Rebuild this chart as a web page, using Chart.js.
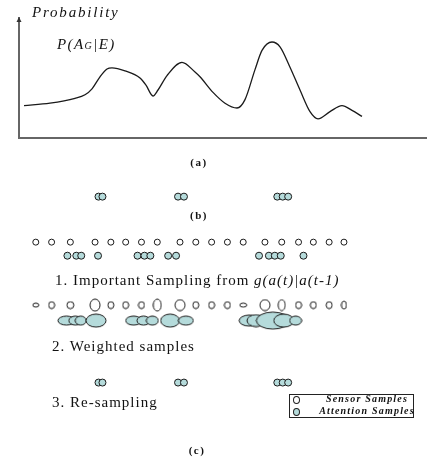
<!DOCTYPE html>
<html>
<head>
<meta charset="utf-8">
<script src="https://cdn.jsdelivr.net/npm/chart.js@4.4.1/dist/chart.umd.min.js"></script>
<style>
  html, body { margin: 0; padding: 0; background: #fff; }
  #page { position: relative; width: 427px; height: 466px; overflow: hidden;
          font-family: "Liberation Serif", "Times New Roman", serif; color: #111; }
  #page canvas { position: absolute; left: 0; }
  .t { position: absolute; white-space: nowrap; line-height: 1; transform: translateY(-50%); }
  .c { transform: translate(-50%, -50%); }
  .it { font-style: italic; }
  .cap { font-weight: bold; font-size: 11px; letter-spacing: 1.5px; }
  .step { font-size: 15px; letter-spacing: 1px; }
  #legend { position: absolute; left: 289px; top: 394px; width: 123px; height: 22px; border: 1px solid #222; }
  #legend .dot { position: absolute; left: 3px; width: 5px; height: 6px; border: 1px solid #222; border-radius: 50%; }
  #legend .lt { position: absolute; left: 77px; font-size: 10px; font-weight: bold; font-style: italic;
                letter-spacing: 1.2px; line-height: 1; transform: translate(-50%, -50%); white-space: nowrap; }
</style>
</head>
<body>
<div id="page">
  <canvas id="curve" width="427" height="150" style="top:0"></canvas>
  <canvas id="samples" width="427" height="316" style="top:150px"></canvas>

  <div class="t it" style="left:32px; top:12px; font-size:15px; letter-spacing:1.8px">Probability</div>
  <div class="t it" style="left:57px; top:44px; font-size:15px; letter-spacing:1.4px">P(A<span style="font-size:10px">G</span>|E)</div>
  <div class="t c cap" style="left:199px; top:162px">(a)</div>
  <div class="t c cap" style="left:199px; top:215px">(b)</div>
  <div class="t step" style="left:55px; top:280px">1. Important Sampling from <span class="it">g(a(t)|a(t-1)</span></div>
  <div class="t step" style="left:52px; top:346px">2. Weighted samples</div>
  <div class="t step" style="left:52px; top:402px">3. Re-sampling</div>
  <div class="t c cap" style="left:197px; top:450px">(c)</div>

  <div id="legend">
    <span class="dot" style="top:1px; background:#fff"></span>
    <span class="lt" style="top:4px">Sensor Samples</span>
    <span class="dot" style="top:13px; background:#b5dbdb"></span>
    <span class="lt" style="top:16px">Attention Samples</span>
  </div>
</div>

<script>
// (a) probability curve P(AG|E) over the state axis
const curveX = [5, 31, 56, 66, 73, 81, 88, 93, 106, 121, 127, 134, 139, 148, 163, 176, 181, 194, 206, 218,
                226, 236, 243, 253, 261, 271, 281, 291, 299, 311, 323, 333, 343];
const curveP = [0.27, 0.29, 0.33, 0.36, 0.41, 0.51, 0.575, 0.585, 0.56, 0.5, 0.44, 0.35, 0.4, 0.52, 0.63, 0.55,
                0.51, 0.38, 0.29, 0.25, 0.32, 0.57, 0.73, 0.8, 0.76, 0.59, 0.4, 0.22, 0.16, 0.22, 0.27, 0.23, 0.18];

// (b) / step 3: re-sampled attention samples
const resampledX = [80.5, 84.5, 161, 167, 261.5, 267, 272.5];

// step 1: sensor samples and samples drawn from g(a(t)|a(t-1))
const sensorX = [17, 33, 52, 77, 93, 108, 124, 140, 163, 179, 195, 211, 227, 249, 266, 283, 298, 314, 329];
const attentionX = [49, 58, 63, 80, 120, 127, 133, 151, 159, 243, 253, 259, 265, 288];

// step 2: weights of the sensor samples (ellipse width / height)
const sensorWeightW = [6, 6, 7, 10, 6, 6, 6, 8, 10, 6, 6, 6, 7, 10, 7, 6, 6, 6, 5];
const sensorWeightH = [4, 7, 7, 12, 7, 7, 7, 12, 11, 7, 7, 7, 4, 11, 11, 7, 7, 7, 8];

// step 2: weighted attention samples
const weightedX = [48, 57, 62.5, 78, 116, 126, 135, 153, 169, 233, 240, 257, 268, 280];
const weightedW = [17, 13, 11, 20, 16, 13, 12, 19, 15, 20, 18, 33, 20, 12];
const weightedH = [9, 9, 9, 13, 9, 9, 9, 13, 9, 11, 12, 17, 13, 9];

const ATTN = '#b5dbdb';
const INK = '#1a1a1a';

// row heights of the sample strips (page pixels)
const ROW_B = 193, ROW_SENSOR = 240, ROW_ATTN = 254, ROW_WSENSOR = 305, ROW_WATTN = 321, ROW_RESAMPLE = 385;

function ellipseStyle(w, h, fill) {
  const c = document.createElement('canvas');
  c.width = Math.ceil(w) + 2;
  c.height = Math.ceil(h) + 2;
  const g = c.getContext('2d');
  g.beginPath();
  g.ellipse(c.width / 2, c.height / 2, w / 2, h / 2, 0, 0, Math.PI * 2);
  g.fillStyle = fill;
  g.fill();
  g.lineWidth = 1;
  g.strokeStyle = INK;
  g.stroke();
  return c;
}

const axisArrow = {
  id: 'axisArrow',
  afterDraw(chart) {
    const ctx = chart.ctx;
    const x = chart.scales.x.left;
    const y = chart.scales.y.top;
    ctx.save();
    ctx.fillStyle = '#333';
    ctx.beginPath();
    ctx.moveTo(x - 2.5, y + 4);
    ctx.lineTo(x + 2.5, y + 4);
    ctx.lineTo(x, y - 1);
    ctx.closePath();
    ctx.fill();
    ctx.restore();
  }
};

new Chart(document.getElementById('curve'), {
  type: 'line',
  data: {
    datasets: [{
      data: curveX.map((x, i) => ({ x: x, y: curveP[i] })),
      borderColor: INK,
      borderWidth: 1.3,
      pointRadius: 0,
      cubicInterpolationMode: 'monotone'
    }]
  },
  options: {
    responsive: false,
    animation: false,
    layout: { padding: { left: 19, top: 18, right: 0, bottom: 12 } },
    plugins: { legend: { display: false }, tooltip: { enabled: false } },
    scales: {
      x: { type: 'linear', min: 0, max: 408, grid: { display: false, drawTicks: false },
           ticks: { display: false }, border: { color: '#666', width: 2 } },
      y: { min: 0, max: 1, grid: { display: false, drawTicks: false },
           ticks: { display: false }, border: { color: '#666', width: 2 } }
    }
  },
  plugins: [axisArrow]
});

function row(xs, y) {
  return xs.map(x => ({ x: x, y: y }));
}

const sensorStyles = sensorX.map((_, i) => ellipseStyle(sensorWeightW[i], sensorWeightH[i], '#fff'));
const weightedStyles = weightedX.map((_, i) => ellipseStyle(weightedW[i], weightedH[i], ATTN));

new Chart(document.getElementById('samples'), {
  type: 'scatter',
  data: {
    datasets: [
      { label: 'b', data: row(resampledX, ROW_B), pointRadius: 3.5, backgroundColor: ATTN, borderColor: INK, borderWidth: 1 },
      { label: 'sensor', data: row(sensorX, ROW_SENSOR), pointRadius: 3, backgroundColor: '#fff', borderColor: INK, borderWidth: 1 },
      { label: 'attention', data: row(attentionX, ROW_ATTN), pointRadius: 3.5, backgroundColor: ATTN, borderColor: INK, borderWidth: 1 },
      { label: 'weighted sensor', data: row(sensorX, ROW_WSENSOR), pointRadius: 3, pointStyle: ctx => sensorStyles[ctx.dataIndex] },
      { label: 'weighted attention', data: row(weightedX, ROW_WATTN), pointRadius: 3, pointStyle: ctx => weightedStyles[ctx.dataIndex] },
      { label: 'resampled', data: row(resampledX, ROW_RESAMPLE), pointRadius: 3.5, backgroundColor: ATTN, borderColor: INK, borderWidth: 1 }
    ]
  },
  options: {
    responsive: false,
    animation: false,
    layout: { padding: { left: 19, top: 0, right: 0, bottom: 0 } },
    plugins: { legend: { display: false }, tooltip: { enabled: false } },
    scales: {
      x: { type: 'linear', min: 0, max: 408, display: false },
      y: { type: 'linear', min: 150, max: 466, reverse: true, display: false }
    }
  }
});
</script>
</body>
</html>
